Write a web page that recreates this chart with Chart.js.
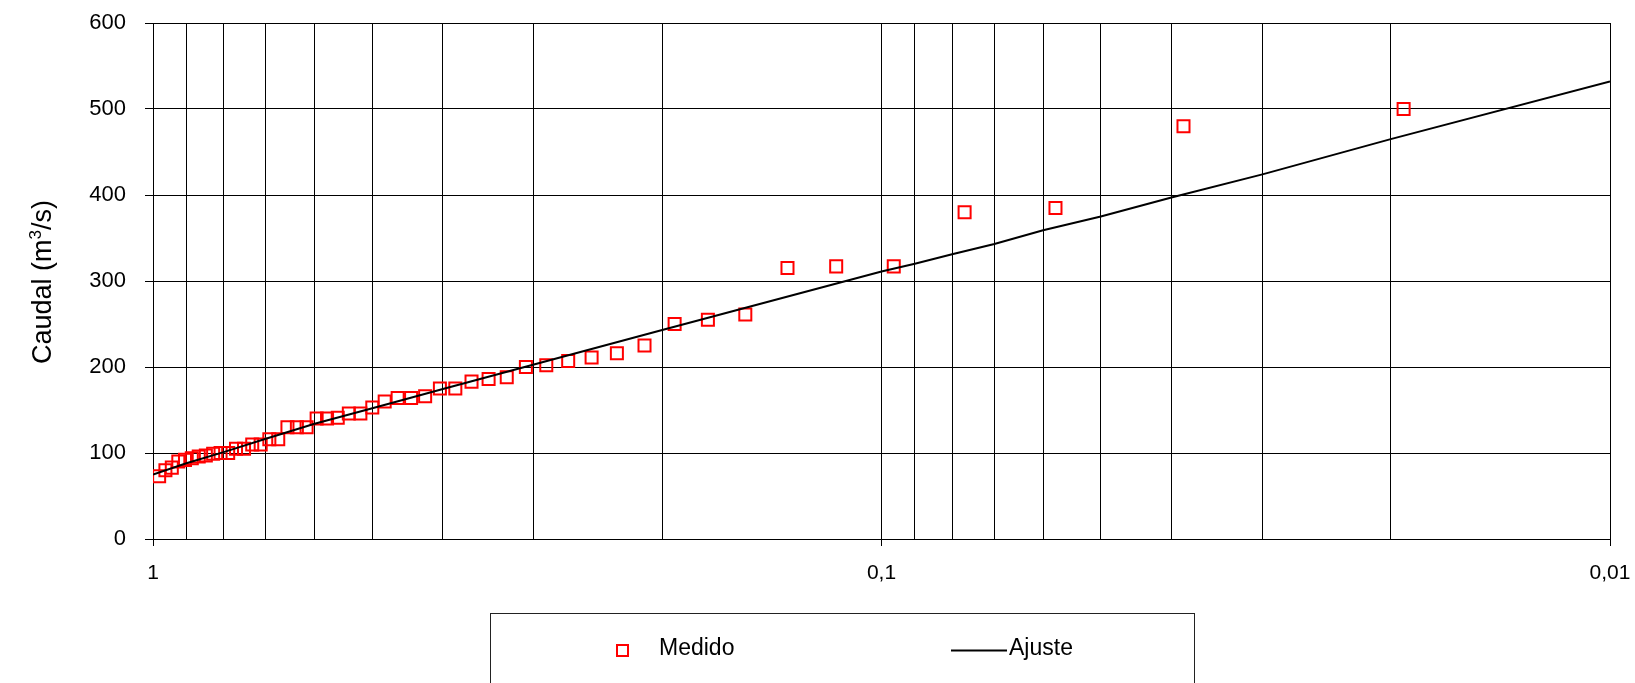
<!DOCTYPE html>
<html>
<head>
<meta charset="utf-8">
<script src="https://cdn.jsdelivr.net/npm/chart.js@4.4.1/dist/chart.umd.min.js"></script>
<style>
    html, body { margin: 0; padding: 0; background: #fff; }
    #wrap { width: 1635px; height: 683px; position: relative; }
</style>
</head>
<body>
<div id="wrap"><canvas id="caudalChart"></canvas></div>
<script>
"use strict";

// Probabilidad de excedencia (eje x) y caudal medido
const probMedido = [
    0.0192, 0.0385, 0.0577, 0.0769, 0.0962, 0.1154, 0.1346, 0.1538, 0.1731, 0.1923,
    0.2115, 0.2308, 0.2500, 0.2692, 0.2885, 0.3077, 0.3269, 0.3462, 0.3654, 0.3846,
    0.4038, 0.4231, 0.4423, 0.4615, 0.4808, 0.5000, 0.5192, 0.5385, 0.5577, 0.5769,
    0.5962, 0.6154, 0.6346, 0.6538, 0.6731, 0.6923, 0.7115, 0.7308, 0.7500, 0.7692,
    0.7885, 0.8077, 0.8269, 0.8462, 0.8654, 0.8846, 0.9038, 0.9231, 0.9423, 0.9615,
    0.9808
];
const caudalMedido = [
    500, 480, 385, 380, 317, 317, 315, 261, 255, 250,
    225, 216, 211, 207, 202, 200, 188, 186, 183, 175,
    175, 166, 164, 164, 160, 153, 146, 146, 141, 140,
    140, 130, 130, 130, 116, 116, 110, 110, 105, 105,
    100, 100, 99, 97, 96, 94, 92, 90, 83, 80,
    73
];

// Curva de ajuste
const probAjuste = [1, 0.9, 0.8, 0.7, 0.6, 0.5, 0.4, 0.3, 0.2, 0.1,
    0.09, 0.08, 0.07, 0.06, 0.05, 0.04, 0.03, 0.02, 0.01];
const caudalAjuste = [75, 88, 101, 116.5, 134, 152, 174.5, 203, 243, 311,
    320, 331, 343, 359, 375, 397, 424, 465, 532];

// Lineas de division del eje x y etiquetas
const xGridValues = [0.01, 0.02, 0.03, 0.04, 0.05, 0.06, 0.07, 0.08, 0.09,
    0.1, 0.2, 0.3, 0.4, 0.5, 0.6, 0.7, 0.8, 0.9, 1];
const xLabelValues = [1, 0.1, 0.01];
const yMin = 0;
const yMax = 600;
const yStep = 100;

const FONT = "'Liberation Sans', Arial, sans-serif";

const toPoints = (xs, ys) => xs.map((x, i) => ({ x: x, y: ys[i] }));

// Titulo del eje y (con superindice) y leyenda con recuadro
const extrasPlugin = {
    id: 'extras',
    afterDraw(chart) {
        const ctx = chart.ctx;
        ctx.save();

        ctx.fillStyle = '#000';
        ctx.textBaseline = 'alphabetic';
        const big = '27px ' + FONT;
        const small = '17px ' + FONT;
        ctx.font = big;
        const partA = 'Caudal (m';
        const partB = '/s)';
        const wA = ctx.measureText(partA).width;
        const wB = ctx.measureText(partB).width;
        ctx.font = small;
        const wSup = ctx.measureText('3').width;
        const total = wA + wSup + wB;
        ctx.translate(51, 282);
        ctx.rotate(-Math.PI / 2);
        const x0 = -total / 2;
        ctx.font = big;
        ctx.fillText(partA, x0, 0);
        ctx.font = small;
        ctx.fillText('3', x0 + wA, -10);
        ctx.font = big;
        ctx.fillText(partB, x0 + wA + wSup, 0);
        ctx.setTransform(1, 0, 0, 1, 0, 0);

        // recuadro de la leyenda
        ctx.strokeStyle = '#222';
        ctx.lineWidth = 1;
        ctx.strokeRect(490.5, 613.5, 704, 100);

        ctx.strokeStyle = '#ff0000';
        ctx.lineWidth = 2;
        ctx.strokeRect(617, 645, 11, 11);

        ctx.strokeStyle = '#000';
        ctx.lineWidth = 2;
        ctx.beginPath();
        ctx.moveTo(951, 650.5);
        ctx.lineTo(1007, 650.5);
        ctx.stroke();

        ctx.fillStyle = '#000';
        ctx.font = '23px ' + FONT;
        ctx.textAlign = 'left';
        ctx.textBaseline = 'middle';
        ctx.fillText('Medido', 659, 649);
        ctx.fillText('Ajuste', 1009, 649);
        ctx.restore();
    }
};

new Chart(document.getElementById('caudalChart'), {
    type: 'scatter',
    data: {
        datasets: [
            {
                label: 'Ajuste',
                data: toPoints(probAjuste, caudalAjuste),
                showLine: true,
                borderColor: '#000',
                borderWidth: 2,
                pointRadius: 0,
                tension: 0
            },
            {
                label: 'Medido',
                data: toPoints(probMedido, caudalMedido),
                pointStyle: 'rect',
                pointRadius: 8.5,
                pointBorderWidth: 2,
                borderColor: '#ff0000',
                backgroundColor: 'rgba(0,0,0,0)',
                showLine: false
            }
        ]
    },
    options: {
        responsive: true,
        maintainAspectRatio: false,
        animation: false,
        layout: { padding: { top: 23, right: 25, left: 0, bottom: 0 } },
        plugins: {
            legend: { display: false },
            tooltip: { enabled: false }
        },
        scales: {
            x: {
                type: 'logarithmic',
                reverse: true,
                min: 0.01,
                max: 1,
                afterBuildTicks: (scale) => {
                    scale.ticks = xGridValues.map(v => ({ value: v }));
                },
                afterFit: (scale) => {
                    scale.height = 144;
                    scale.paddingLeft = 0;
                    scale.paddingRight = 0;
                },
                border: { display: true, color: '#000', width: 1 },
                grid: {
                    color: '#000',
                    lineWidth: 1,
                    tickLength: 7,
                    tickColor: (c) => (c.tick && xLabelValues.includes(c.tick.value)) ? '#000' : 'rgba(0,0,0,0)'
                },
                ticks: {
                    autoSkip: false,
                    maxRotation: 0,
                    padding: 15,
                    color: '#000',
                    font: { family: FONT, size: 21 },
                    callback: (value) => xLabelValues.includes(value) ? String(value).replace('.', ',') : ''
                }
            },
            y: {
                min: yMin,
                max: yMax,
                afterFit: (scale) => {
                    scale.width = 153;
                    scale.paddingTop = 0;
                    scale.paddingBottom = 0;
                },
                border: { display: true, color: '#000', width: 1 },
                grid: { color: '#000', lineWidth: 1, tickLength: 8, tickColor: '#000' },
                ticks: {
                    stepSize: yStep,
                    padding: 19,
                    color: '#000',
                    font: { family: FONT, size: 22 }
                }
            }
        }
    },
    plugins: [extrasPlugin]
});
</script>
</body>
</html>
